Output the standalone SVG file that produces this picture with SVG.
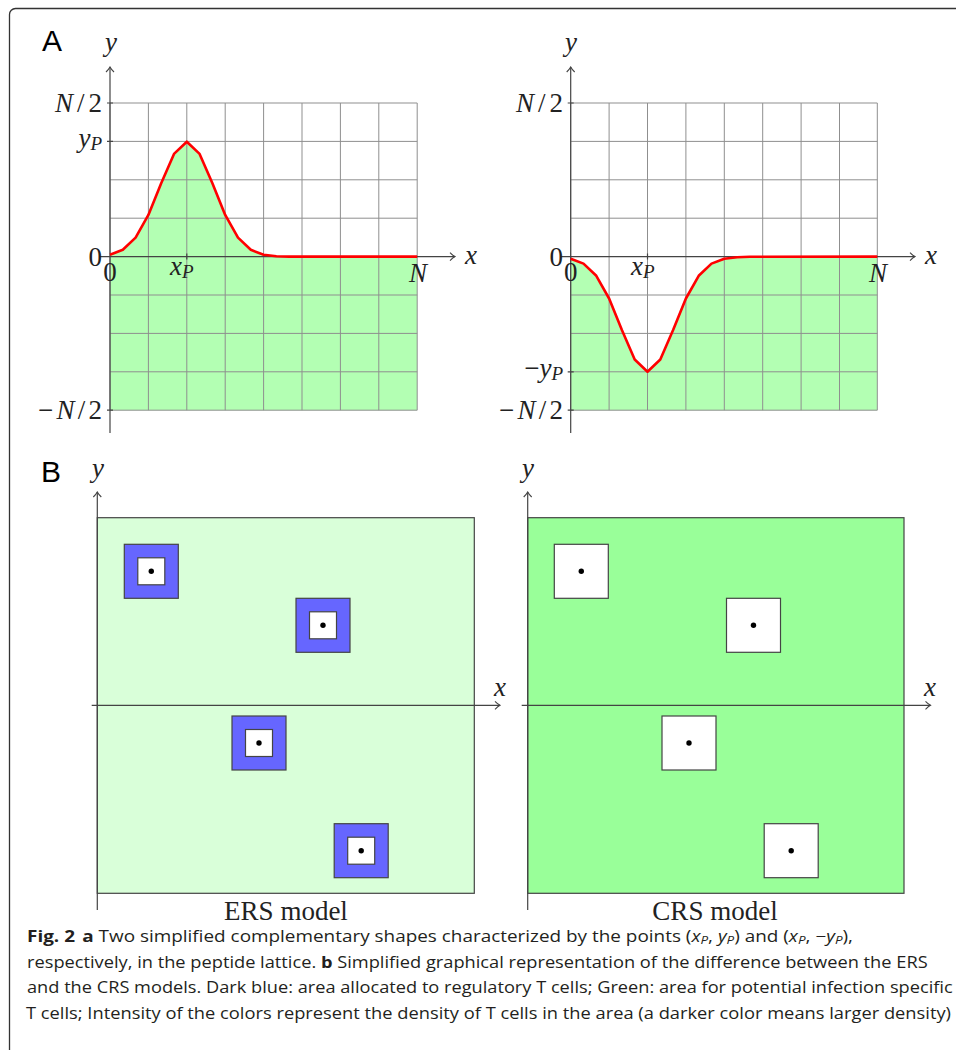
<svg xmlns="http://www.w3.org/2000/svg" width="956" height="1050" viewBox="0 0 956 1050">
<style>
.frame{fill:none;stroke:#333;stroke-width:1.3}
.grid{fill:none;stroke:#8f8f8f;stroke-width:1}
.axis{fill:none;stroke:#444;stroke-width:1.2}
.tick{fill:none;stroke:#444;stroke-width:1.2}
.curve{fill:none;stroke:#ff0000;stroke-width:2.6;stroke-linejoin:round}
.fillA{fill:#b3ffb3;stroke:none}
.m{font-family:"Liberation Serif",serif;font-style:italic;font-size:27px;fill:#222}
.r{font-family:"Liberation Serif",serif;font-size:27px;fill:#222}
.sub{font-family:"Liberation Serif",serif;font-style:italic;font-size:19px;fill:#222}
.t{font-family:"Liberation Serif",serif;font-size:27px;fill:#222}
.lbl{font-family:"Liberation Sans",Arial,sans-serif;font-size:30px;fill:#000}
.cap{font-family:"Open Sans","Noto Sans",sans-serif;font-size:15.5px;fill:#231f20}
.box{stroke:#444;stroke-width:1.2}
.reg{fill:#6666ff}
.wht{fill:#ffffff}
.dot{fill:#000}
</style>
<defs>
<marker id="arr" viewBox="-7 -5 8 10" refX="0" refY="0" markerWidth="8" markerHeight="10" markerUnits="userSpaceOnUse" orient="auto">
<path d="M-5,-4 Q-2,-1 0,0 Q-2,1 -5,4" fill="none" stroke="#444" stroke-width="1.1"/>
</marker>
</defs>
<rect class="frame" x="9.5" y="8.5" width="1000" height="1100" rx="6"/>
<text class="lbl" x="42" y="51">A</text>
<text class="lbl" x="41" y="482">B</text>

<g id="panel-a-left">
<path class="fillA" d="M110,254.7 L122.8,249.8 L135.6,237.6 L148.4,214.9 L161.2,183.3 L174,153.9 L186.8,141.7 L199.6,153.9 L212.4,183.3 L225.2,214.9 L238,237.6 L250.8,249.8 L263.6,254.7 L276.4,256.2 L289.2,256.6 L417.2,256.6 L417.2,410.2 L110,410.2 Z"/>
<path class="grid" d="M110,103V410.2M148.4,103V410.2M186.8,103V410.2M225.2,103V410.2M263.6,103V410.2M302,103V410.2M340.4,103V410.2M378.8,103V410.2M417.2,103V410.2M110,103H417.2M110,141.4H417.2M110,179.8H417.2M110,218.2H417.2M110,295H417.2M110,333.4H417.2M110,371.8H417.2M110,410.2H417.2"/>
<g id="axes-a-left">
<path class="axis" d="M100,256.6H455" marker-end="url(#arr)"/>
<path class="axis" d="M110,433V67" marker-end="url(#arr)"/>
</g>
<path class="tick" d="M107,103H113M107,141.4H113M107,410.2H113M186.8,253.6V259.6"/>
<path class="curve" d="M110,254.7 L122.8,249.8 L135.6,237.6 L148.4,214.9 L161.2,183.3 L174,153.9 L186.8,141.7 L199.6,153.9 L212.4,183.3 L225.2,214.9 L238,237.6 L250.8,249.8 L263.6,254.7 L276.4,256.2 L289.2,256.6 L417.2,256.6"/>
<text class="m" x="111" y="51" text-anchor="middle">y</text>
<text class="m" x="471" y="264" text-anchor="middle">x</text>
<text x="102" y="112" text-anchor="end" textLength="47"><tspan class="m">N</tspan><tspan class="r">/2</tspan></text>
<text x="102" y="147" text-anchor="end"><tspan class="m">y</tspan><tspan class="sub" dy="3">P</tspan></text>
<text class="r" x="102" y="266" text-anchor="end">0</text>
<text x="102" y="419" text-anchor="end" textLength="64"><tspan class="r">−</tspan><tspan class="m">N</tspan><tspan class="r">/2</tspan></text>
<text class="r" x="110" y="281" text-anchor="middle">0</text>
<text x="170" y="275"><tspan class="m">x</tspan><tspan class="sub" dy="3">P</tspan></text>
<text class="m" x="418" y="282" text-anchor="middle">N</text>
</g>

<g id="panel-a-right">
<path class="fillA" d="M570.7,258.7 L583.5,263.6 L596.3,275.8 L609.1,298.5 L621.9,330.1 L634.7,359.5 L647.5,371.7 L660.3,359.5 L673.1,330.1 L685.9,298.5 L698.7,275.8 L711.5,263.6 L724.3,258.7 L737.1,257.2 L749.9,256.8 L877.3,256.6 L877.3,410.2 L570.7,410.2 Z"/>
<path class="grid" d="M570.7,103V410.2M609.1,103V410.2M647.5,103V410.2M685.9,103V410.2M724.3,103V410.2M762.7,103V410.2M801.1,103V410.2M839.5,103V410.2M877.3,103V410.2M570.7,103H877.3M570.7,141.4H877.3M570.7,179.8H877.3M570.7,218.2H877.3M570.7,295H877.3M570.7,333.4H877.3M570.7,371.8H877.3M570.7,410.2H877.3"/>
<g id="axes-a-right">
<path class="axis" d="M560,256.6H915" marker-end="url(#arr)"/>
<path class="axis" d="M570.7,433V67" marker-end="url(#arr)"/>
</g>
<path class="tick" d="M567.7,103H573.7M567.7,371.8H573.7M567.7,410.2H573.7M647.5,253.6V259.6"/>
<path class="curve" d="M570.7,258.7 L583.5,263.6 L596.3,275.8 L609.1,298.5 L621.9,330.1 L634.7,359.5 L647.5,371.7 L660.3,359.5 L673.1,330.1 L685.9,298.5 L698.7,275.8 L711.5,263.6 L724.3,258.7 L737.1,257.2 L749.9,256.8 L877.3,256.6"/>
<text class="m" x="571" y="51" text-anchor="middle">y</text>
<text class="m" x="931" y="264" text-anchor="middle">x</text>
<text x="563" y="112" text-anchor="end" textLength="47"><tspan class="m">N</tspan><tspan class="r">/2</tspan></text>
<text class="r" x="563" y="266" text-anchor="end">0</text>
<text x="563" y="377" text-anchor="end"><tspan class="r">−</tspan><tspan class="m">y</tspan><tspan class="sub" dy="3">P</tspan></text>
<text x="563" y="419" text-anchor="end" textLength="64"><tspan class="r">−</tspan><tspan class="m">N</tspan><tspan class="r">/2</tspan></text>
<text class="r" x="570.7" y="281" text-anchor="middle">0</text>
<text x="631" y="275"><tspan class="m">x</tspan><tspan class="sub" dy="3">P</tspan></text>
<text class="m" x="878" y="282" text-anchor="middle">N</text>
</g>

<g id="panel-b-ers">
<rect class="box" x="97.3" y="517.7" width="377" height="375.6" fill="#d9ffd9"/>
<g id="axes-b-ers">
<path class="axis" d="M91.7,705.3H500" marker-end="url(#arr)"/>
<path class="axis" d="M97.3,910V492" marker-end="url(#arr)"/>
</g>
<g id="reg1"><rect class="box reg" x="124.3" y="544.3" width="54" height="54"/><rect class="box wht" x="137.8" y="557.8" width="27" height="27"/><circle class="dot" cx="151.3" cy="571.3" r="2.7"/></g>
<g id="reg2"><rect class="box reg" x="296" y="598.3" width="54" height="54"/><rect class="box wht" x="309.5" y="611.8" width="27" height="27"/><circle class="dot" cx="323" cy="625.3" r="2.7"/></g>
<g id="reg3"><rect class="box reg" x="232" y="716" width="54" height="54"/><rect class="box wht" x="245.5" y="729.5" width="27" height="27"/><circle class="dot" cx="259" cy="743" r="2.7"/></g>
<g id="reg4"><rect class="box reg" x="334.2" y="823.7" width="54" height="54"/><rect class="box wht" x="347.7" y="837.2" width="27" height="27"/><circle class="dot" cx="361.2" cy="850.7" r="2.7"/></g>
<text class="m" x="98" y="477" text-anchor="middle">y</text>
<text class="m" x="500" y="696" text-anchor="middle">x</text>
<text class="t" x="286" y="920" text-anchor="middle">ERS model</text>
</g>

<g id="panel-b-crs">
<rect class="box" x="527.7" y="517.7" width="376.3" height="375.6" fill="#99ff99"/>
<g id="axes-b-crs">
<path class="axis" d="M521.7,705.3H930.5" marker-end="url(#arr)"/>
<path class="axis" d="M527.7,910V492" marker-end="url(#arr)"/>
</g>
<g id="inf1"><rect class="box wht" x="554.3" y="544.3" width="54" height="54"/><circle class="dot" cx="581.3" cy="571.3" r="2.7"/></g>
<g id="inf2"><rect class="box wht" x="726.5" y="598.3" width="54" height="54"/><circle class="dot" cx="753.5" cy="625.3" r="2.7"/></g>
<g id="inf3"><rect class="box wht" x="662" y="716" width="54" height="54"/><circle class="dot" cx="689" cy="743" r="2.7"/></g>
<g id="inf4"><rect class="box wht" x="764.2" y="823.7" width="54" height="54"/><circle class="dot" cx="791.2" cy="850.7" r="2.7"/></g>
<text class="m" x="528" y="477" text-anchor="middle">y</text>
<text class="m" x="930" y="696" text-anchor="middle">x</text>
<text class="t" x="715" y="920" text-anchor="middle">CRS model</text>
</g>

<g id="caption" class="cap">
<text x="27" y="942" textLength="826" lengthAdjust="spacingAndGlyphs"><tspan font-weight="bold">Fig. 2</tspan><tspan font-weight="bold" dx="6">a</tspan> Two simplified complementary shapes characterized by the points (<tspan font-style="italic">x</tspan><tspan font-style="italic" font-size="11" dy="2">P</tspan><tspan dy="-2">, </tspan><tspan font-style="italic">y</tspan><tspan font-style="italic" font-size="11" dy="2">P</tspan><tspan dy="-2">) and (</tspan><tspan font-style="italic">x</tspan><tspan font-style="italic" font-size="11" dy="2">P</tspan><tspan dy="-2">, −</tspan><tspan font-style="italic">y</tspan><tspan font-style="italic" font-size="11" dy="2">P</tspan><tspan dy="-2">),</tspan></text>
<text x="27" y="967.7" textLength="900.7" lengthAdjust="spacingAndGlyphs">respectively, in the peptide lattice. <tspan font-weight="bold">b</tspan> Simplified graphical representation of the difference between the ERS</text>
<text x="27" y="993" textLength="925.7" lengthAdjust="spacingAndGlyphs">and the CRS models. Dark blue: area allocated to regulatory T cells; Green: area for potential infection specific</text>
<text x="26" y="1019" textLength="925" lengthAdjust="spacingAndGlyphs">T cells; Intensity of the colors represent the density of T cells in the area (a darker color means larger density)</text>
</g>
</svg>
